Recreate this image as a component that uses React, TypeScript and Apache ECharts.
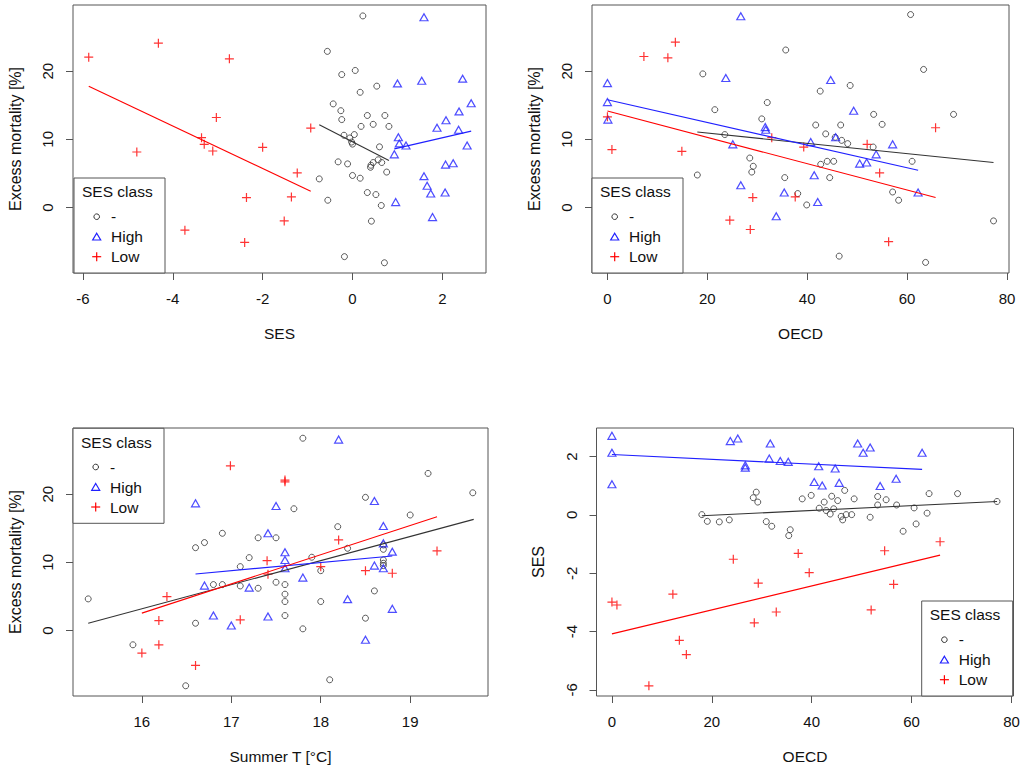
import { useEffect, useRef } from 'react'
import * as echarts from 'echarts'

type Pt = [number, number]

const CLASS_NAMES = ['-', 'High', 'Low']

// SES (x) vs excess mortality % (y)
const sesMortMid: Pt[] = [
  [0.23, 28.1], [-0.56, 22.9], [-0.24, 19.5], [0.06, 20.1], [0.54, 17.8], [0.17, 16.9], [-0.43, 15.2],
  [-0.26, 14.2], [-0.24, 12.9], [0.33, 13.5], [0.72, 13.5], [0.19, 11.9], [0.46, 12.2], [0.81, 11.9],
  [-0.19, 10.6], [-0.06, 10.2], [0.04, 10.7], [-0.02, 9.6], [0.0, 9.3], [0.6, 8.9], [-0.32, 6.7],
  [-0.11, 6.4], [0.57, 7.0], [0.46, 6.6], [0.41, 6.2], [0.65, 6.6], [0.4, 5.9], [0.76, 5.2],
  [-0.74, 4.2], [0.0, 4.7], [0.17, 4.3], [-0.55, 1.07], [0.33, 2.2], [0.52, 1.9], [0.64, 0.3],
  [0.42, -2.0], [-0.18, -7.2], [0.71, -8.1],
]
const sesMortHigh: Pt[] = [
  [1.59, 27.9], [1.0, 18.2], [1.54, 18.6], [2.45, 18.9], [2.64, 15.3], [2.37, 14.1], [2.08, 12.8],
  [1.88, 11.7], [2.36, 11.4], [1.02, 10.3], [1.04, 9.4], [1.19, 9.1], [2.55, 9.1], [0.93, 7.8],
  [2.07, 6.3], [2.24, 6.5], [1.59, 4.6], [1.66, 3.2], [1.74, 2.05], [2.06, 2.2], [0.96, 0.8], [1.78, -1.4],
]
const sesMortLow: Pt[] = [
  [-5.87, 22.05], [-4.32, 24.1], [-2.74, 21.8], [-3.03, 13.2], [-4.8, 8.14], [-3.36, 10.25], [-3.3, 9.27],
  [-3.11, 8.29], [-2.0, 8.83], [-0.93, 11.65], [-1.23, 5.07], [-1.36, 1.55], [-2.36, 1.46], [-1.52, -1.96],
  [-3.73, -3.32], [-2.4, -5.12],
]
const sesMortMidFit: Pt[] = [[-0.74, 12.15], [0.81, 6.9]]
const sesMortHighFit: Pt[] = [[0.93, 8.6], [2.64, 11.2]]
const sesMortLowFit: Pt[] = [[-5.87, 17.8], [-0.93, 2.39]]

// OECD (x) vs excess mortality % (y)
const oecdMortMid: Pt[] = [
  [35.7, 23.1], [19.1, 19.6], [21.5, 14.35], [32.0, 15.4], [30.9, 13.0], [23.5, 10.7], [28.5, 7.26],
  [29.2, 6.05], [28.9, 5.2], [18.0, 4.77], [35.5, 4.39], [38.1, 2.05], [60.7, 28.3], [63.3, 20.25],
  [42.6, 17.07], [48.6, 17.9], [69.3, 13.66], [53.3, 13.66], [55.0, 12.2], [41.7, 12.1], [46.7, 12.1],
  [43.7, 10.8], [46.9, 9.85], [48.1, 9.37], [45.6, 10.3], [53.2, 8.87], [42.7, 6.34], [44.0, 6.78],
  [45.3, 6.78], [61.0, 6.78], [44.5, 4.39], [57.1, 2.28], [58.3, 1.07], [39.9, 0.38], [77.3, -1.96],
  [46.4, -7.13], [63.7, -8.05],
]
const oecdMortHigh: Pt[] = [
  [26.7, 28.05], [0, 18.25], [0, 15.46], [0.1, 12.9], [23.7, 19.0], [31.6, 11.8], [31.7, 11.4],
  [25.1, 9.27], [26.7, 3.27], [35.4, 2.2], [33.8, -1.27], [44.7, 18.7], [49.3, 14.2], [40.7, 9.6],
  [45.7, 10.3], [57.1, 9.27], [53.8, 7.8], [51.9, 6.6], [50.5, 6.44], [41.4, 4.73], [42.1, 0.82], [62.2, 2.2],
]
const oecdMortLow: Pt[] = [
  [0, 13.3], [0.9, 8.5], [7.3, 22.15], [12.1, 21.96], [13.6, 24.25], [14.9, 8.24], [24.5, -1.86],
  [29.1, 1.46], [28.6, -3.22], [32.9, 10.25], [37.6, 1.55], [39.3, 8.87], [52.0, 9.27], [54.5, 5.07],
  [65.7, 11.7], [56.3, -5.0],
]
const oecdMortMidFit: Pt[] = [[18.0, 11.07], [77.3, 6.6]]
const oecdMortHighFit: Pt[] = [[0, 15.8], [62.2, 5.46]]
const oecdMortLowFit: Pt[] = [[0, 14.15], [65.7, 1.46]]

// Summer T (x) vs excess mortality % (y)
const tempMortMid: Pt[] = [
  [15.4, 4.64], [15.9, -2.09], [16.49, -8.1], [16.6, 1.07], [16.6, 12.15], [16.7, 12.9], [16.9, 14.26],
  [16.8, 6.74], [16.9, 6.74], [17.1, 9.37], [17.2, 10.69], [17.1, 6.54], [17.3, 6.2], [17.3, 13.6],
  [17.5, 13.6], [17.5, 7.08], [17.6, 6.74], [17.6, 5.33], [17.6, 4.25], [17.6, 2.2], [17.7, 17.86],
  [17.8, 28.2], [18.19, 15.23], [18.5, 19.53], [19.2, 23.04], [19.7, 20.2], [19.0, 16.94], [17.9, 10.75],
  [18.3, 12.06], [18.0, 8.78], [18.7, 12.55], [18.7, 11.91], [18.7, 10.35], [18.7, 9.86], [18.7, 9.52],
  [18.0, 4.25], [18.6, 5.81], [17.8, 0.25], [18.5, 1.81], [18.1, -7.22],
]
const tempMortHigh: Pt[] = [
  [16.6, 18.65], [17.5, 18.26], [17.41, 14.26], [17.6, 11.48], [17.6, 10.35], [17.6, 9.13], [16.7, 6.59],
  [17.2, 6.3], [16.8, 2.2], [17.0, 0.73], [17.41, 2.05], [18.2, 28.0], [18.6, 18.99], [18.7, 15.33],
  [18.7, 12.79], [18.8, 11.57], [18.6, 9.52], [18.7, 9.13], [17.8, 7.76], [18.3, 4.6], [18.8, 3.18], [18.5, -1.36],
]
const tempMortLow: Pt[] = [
  [16.99, 24.16], [17.6, 22.06], [17.6, 21.8], [16.28, 4.98], [16.19, 1.46], [16.19, -2.09], [16.0, -3.31],
  [16.6, -5.12], [17.1, 1.57], [17.4, 10.25], [17.41, 8.26], [18.2, 13.28], [18.0, 9.37], [18.5, 8.78],
  [18.8, 8.4], [19.3, 11.67],
]
const tempMortMidFit: Pt[] = [[15.4, 1.07], [19.71, 16.3]]
const tempMortHighFit: Pt[] = [[16.6, 8.3], [18.8, 10.94]]
const tempMortLowFit: Pt[] = [[16.0, 2.55], [19.3, 16.7]]

// OECD (x) vs SES (y)
const oecdSesMid: Pt[] = [
  [18.0, 0.01], [19.1, -0.22], [21.5, -0.24], [23.5, -0.17], [28.9, 0.78], [28.3, 0.59], [29.2, 0.44],
  [30.9, -0.23], [32.0, -0.39], [35.7, -0.51], [35.4, -0.71], [38.1, 0.55], [39.9, 0.67], [42.5, 0.44],
  [44.0, 0.64], [45.2, 0.49], [46.6, 0.84], [48.5, 0.55], [41.5, 0.23], [42.9, 0.15], [43.7, 0.03],
  [44.4, 0.21], [45.9, -0.05], [46.2, -0.17], [46.9, 0.01], [48.0, 0.01], [51.7, -0.08], [53.2, 0.63],
  [53.2, 0.34], [54.9, 0.52], [57.0, 0.34], [58.3, -0.56], [60.5, 0.24], [60.9, -0.31], [63.1, 0.06],
  [63.5, 0.73], [69.2, 0.73], [77.1, 0.46],
]
const oecdSesHigh: Pt[] = [
  [0, 2.71], [0, 2.13], [0, 1.05], [23.7, 2.53], [25.2, 2.62], [31.7, 2.45], [31.5, 1.93], [33.7, 1.85],
  [35.3, 1.82], [26.7, 1.7], [26.7, 1.62], [49.2, 2.45], [50.3, 2.13], [51.7, 2.31], [62.1, 2.13],
  [41.4, 1.67], [44.7, 1.59], [40.5, 1.13], [42.1, 1.01], [45.5, 1.1], [53.7, 0.99], [56.9, 1.24],
]
const oecdSesLow: Pt[] = [
  [0, -2.99], [1.0, -3.09], [7.4, -5.86], [12.2, -2.72], [13.5, -4.3], [14.9, -4.79], [24.3, -1.52],
  [29.3, -2.34], [28.5, -3.7], [32.9, -3.33], [37.3, -1.32], [39.5, -1.98], [54.6, -1.23], [56.4, -2.38],
  [51.9, -3.26], [65.7, -0.92],
]
const oecdSesMidFit: Pt[] = [[18.0, -0.03], [77.1, 0.46]]
const oecdSesHighFit: Pt[] = [[0, 2.07], [62.1, 1.56]]
const oecdSesLowFit: Pt[] = [[0, -4.08], [65.7, -1.38]]

const SES_TICKS = [-6, -4, -2, 0, 2]
const OECD_TICKS = [0, 20, 40, 60, 80]
const TEMP_TICKS = [16, 17, 18, 19]
const MORT_TICKS = [0, 10, 20]

const FONT = 'Liberation Sans'
const BOX = '#555'
const TEXT = '#111'
const MID_COLOR = '#333'
const HIGH_COLOR = '#2020ff'
const LOW_COLOR = '#ff0000'
const PLUS = 'path://M0,5L10,5M5,0L5,10'

function xAxis(gridIndex: number, min: number, max: number, ticks: number[], name: string) {
  return {
    type: 'value' as const,
    gridIndex,
    min,
    max,
    name,
    nameLocation: 'middle' as const,
    nameGap: 52,
    nameTextStyle: { fontSize: 15.5, color: TEXT, fontFamily: FONT },
    axisLine: { show: false, onZero: false },
    axisTick: { show: true, length: 7, lineStyle: { color: BOX }, customValues: ticks },
    axisLabel: { fontSize: 15, color: TEXT, fontFamily: FONT, margin: 18, customValues: ticks },
    splitLine: { show: false },
  }
}

function yAxis(gridIndex: number, min: number, max: number, ticks: number[], name: string) {
  return {
    type: 'value' as const,
    gridIndex,
    min,
    max,
    name,
    nameLocation: 'middle' as const,
    nameGap: 50,
    nameRotate: 90,
    nameTextStyle: { fontSize: 16, color: TEXT, fontFamily: FONT },
    axisLine: { show: false, onZero: false },
    axisTick: { show: true, length: 7, lineStyle: { color: BOX }, customValues: ticks },
    axisLabel: { fontSize: 15, color: TEXT, fontFamily: FONT, margin: 18, rotate: 90, customValues: ticks },
    splitLine: { show: false },
  }
}

function panelSeries(idx: number, mid: Pt[], high: Pt[], low: Pt[], fits: Pt[][]) {
  const axes = { xAxisIndex: idx, yAxisIndex: idx }
  const hollow = (c: string, w: number) => ({ color: 'rgba(0,0,0,0)', borderColor: c, borderWidth: w })
  return [
    { ...axes, type: 'scatter', name: CLASS_NAMES[0], data: mid, symbol: 'circle', symbolSize: 6, itemStyle: hollow(MID_COLOR, 1) },
    { ...axes, type: 'scatter', name: CLASS_NAMES[1], data: high, symbol: 'triangle', symbolSize: [8, 7], itemStyle: hollow(HIGH_COLOR, 1.2) },
    { ...axes, type: 'scatter', name: CLASS_NAMES[2], data: low, symbol: PLUS, symbolSize: 9, itemStyle: hollow(LOW_COLOR, 1.2) },
    ...fits.map((d, i) => ({
      ...axes,
      type: 'line',
      name: CLASS_NAMES[i] + ' fit',
      data: d,
      symbol: 'none',
      z: 5,
      lineStyle: { color: [MID_COLOR, HIGH_COLOR, LOW_COLOR][i], width: 1.1 },
    })),
  ]
}

function legendBox(left: number, top: number) {
  const ts = { fill: TEXT, font: `15.5px "${FONT}"`, textVerticalAlign: 'middle', verticalAlign: 'middle' }
  const sx = 22.7
  return {
    type: 'group',
    x: left,
    y: top,
    z: 100,
    silent: true,
    children: [
      { type: 'rect', shape: { x: 0, y: 0, width: 91, height: 95 }, style: { fill: '#fff', stroke: BOX, lineWidth: 1 } },
      { type: 'text', x: 8, y: 13.7, style: { ...ts, text: 'SES class' } },
      { type: 'circle', shape: { cx: sx, cy: 38.7, r: 2.8 }, style: { fill: 'none', stroke: MID_COLOR, lineWidth: 1 } },
      { type: 'text', x: 37, y: 38.7, style: { ...ts, text: CLASS_NAMES[0] } },
      {
        type: 'polygon',
        shape: { points: [[sx, 55.2], [sx + 4, 62], [sx - 4, 62]] },
        style: { fill: 'none', stroke: HIGH_COLOR, lineWidth: 1.2 },
      },
      { type: 'text', x: 37, y: 58.7, style: { ...ts, text: CLASS_NAMES[1] } },
      { type: 'line', shape: { x1: sx - 4.5, y1: 78.7, x2: sx + 4.5, y2: 78.7 }, style: { stroke: LOW_COLOR, lineWidth: 1.2 } },
      { type: 'line', shape: { x1: sx, y1: 74.2, x2: sx, y2: 83.2 }, style: { stroke: LOW_COLOR, lineWidth: 1.2 } },
      { type: 'text', x: 37, y: 78.7, style: { ...ts, text: CLASS_NAMES[2] } },
    ],
  }
}

export default function App() {
  const ref = useRef<HTMLDivElement>(null)

  useEffect(() => {
    const el = ref.current
    if (!el) return
    const chart = echarts.init(el, null, { renderer: 'svg' })
    const gridStyle = { show: true, borderColor: BOX, borderWidth: 1, backgroundColor: 'transparent' }
    chart.setOption({
      animation: false,
      backgroundColor: '#fff',
      textStyle: { fontFamily: FONT },
      grid: [
        { ...gridStyle, left: 73, top: 5, width: 413, height: 268 },
        { ...gridStyle, left: 592, top: 5, width: 417, height: 268 },
        { ...gridStyle, left: 73, top: 428, width: 415, height: 268 },
        { ...gridStyle, left: 596.5, top: 428, width: 417, height: 268 },
      ],
      xAxis: [
        xAxis(0, -6.22, 2.97, SES_TICKS, 'SES'),
        xAxis(1, -3.09, 80.4, OECD_TICKS, 'OECD'),
        xAxis(2, 15.23, 19.87, TEMP_TICKS, 'Summer T [°C]'),
        xAxis(3, -3.09, 80.4, OECD_TICKS, 'OECD'),
      ],
      yAxis: [
        yAxis(0, -9.6, 29.7, MORT_TICKS, 'Excess mortality [%]'),
        yAxis(1, -9.6, 29.7, MORT_TICKS, 'Excess mortality [%]'),
        yAxis(2, -9.6, 29.7, MORT_TICKS, 'Excess mortality [%]'),
        yAxis(3, -6.21, 2.98, SES_TICKS, 'SES'),
      ],
      series: [
        ...panelSeries(0, sesMortMid, sesMortHigh, sesMortLow, [sesMortMidFit, sesMortHighFit, sesMortLowFit]),
        ...panelSeries(1, oecdMortMid, oecdMortHigh, oecdMortLow, [oecdMortMidFit, oecdMortHighFit, oecdMortLowFit]),
        ...panelSeries(2, tempMortMid, tempMortHigh, tempMortLow, [tempMortMidFit, tempMortHighFit, tempMortLowFit]),
        ...panelSeries(3, oecdSesMid, oecdSesHigh, oecdSesLow, [oecdSesMidFit, oecdSesHighFit, oecdSesLowFit]),
      ],
      graphic: [legendBox(74, 178), legendBox(592, 178), legendBox(73, 428.3), legendBox(921.7, 601)],
    })
    return () => chart.dispose()
  }, [])

  return <div ref={ref} style={{ position: 'fixed', left: 0, top: 0, width: 1024, height: 772, background: '#fff' }} />
}
